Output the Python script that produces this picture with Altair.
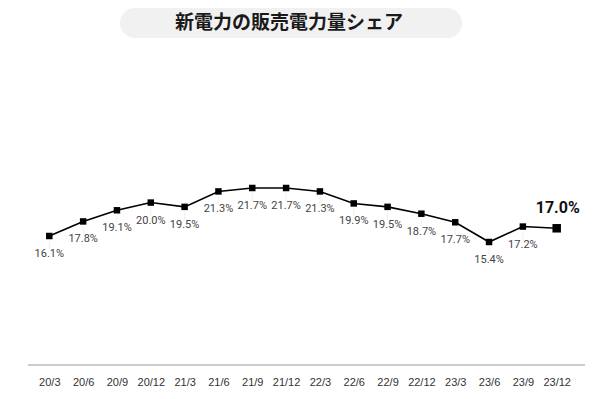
import altair as alt
import pandas as pd

periods = ["20/3", "20/6", "20/9", "20/12", "21/3", "21/6", "21/9", "21/12",
           "22/3", "22/6", "22/9", "22/12", "23/3", "23/6", "23/9", "23/12"]
shares = [16.1, 17.8, 19.1, 20.0, 19.5, 21.3, 21.7, 21.7,
          21.3, 19.9, 19.5, 18.7, 17.7, 15.4, 17.2, 17.0]
title_text = "新電力の販売電力量シェア"

df = pd.DataFrame({"period": periods, "share": shares, "idx": list(range(len(periods)))})
last_idx = len(periods) - 1

W, H = 557, 249

x = alt.X("period:O", sort=periods,
          scale=alt.Scale(type="point", range=[21.3, 528.7], padding=0),
          axis=alt.Axis(title=None, domain=False, ticks=False, grid=False,
                        labelAngle=0, labelFont="Liberation Sans", labelFontSize=11,
                        labelColor="#333333", labelPadding=11))
y = alt.Y("share:Q", scale=alt.Scale(domain=[1.05, 30.1], nice=False, zero=False),
          axis=None)

base = alt.Chart(df).encode(x=x, y=y).transform_calculate(
    label="format(datum.share, '.1f') + '%'")

line = base.mark_line(color="#000000", strokeWidth=1.6)
drops = base.mark_tick(orient="vertical", size=8, thickness=1, color="#e8e8e8",
                       yOffset=9).transform_filter(f"datum.idx < {last_idx}")
pts = base.mark_square(color="#000000", size=42, opacity=1).transform_filter(
    f"datum.idx < {last_idx}")
pt_last = base.mark_square(color="#000000", size=72, opacity=1).transform_filter(
    f"datum.idx == {last_idx}")
labels = base.mark_text(font="Roboto", fontSize=11, color="#444444", dy=18,
                        baseline="middle").encode(text="label:N").transform_filter(
    f"datum.idx < {last_idx}")
label_last = base.mark_text(font="Roboto", fontSize=16, fontWeight="bold",
                            color="#111111", dy=-20, dx=1, baseline="middle").encode(
    text="label:N").transform_filter(f"datum.idx == {last_idx}")

deco = alt.Chart(alt.Data(values=[{}]))
axis_line = deco.mark_rule(color="#999999", strokeWidth=1).encode(
    x=alt.value(0), x2=alt.value(W), y=alt.value(H))
pill = deco.mark_rect(color="#f1f1f1", cornerRadius=15).encode(
    x=alt.value(92), x2=alt.value(434), y=alt.value(-108), y2=alt.value(-78))
title = deco.mark_text(text=title_text, font="Noto Sans CJK JP", fontSize=19,
                       fontWeight="bold", color="#1a1a1a", baseline="middle",
                       align="center").encode(x=alt.value(261), y=alt.value(-93))

chart = alt.layer(pill, title, axis_line, drops, line, pts, pt_last, labels, label_last).properties(
    width=W, height=H,
    background="#ffffff",
    autosize=alt.AutoSizeParams(type="none"),
    padding={"left": 20, "top": 108, "right": 5, "bottom": 26},
).configure_view(strokeWidth=0, stroke="transparent")

chart.save("out.html", embed_options={"renderer": "svg", "actions": False})
